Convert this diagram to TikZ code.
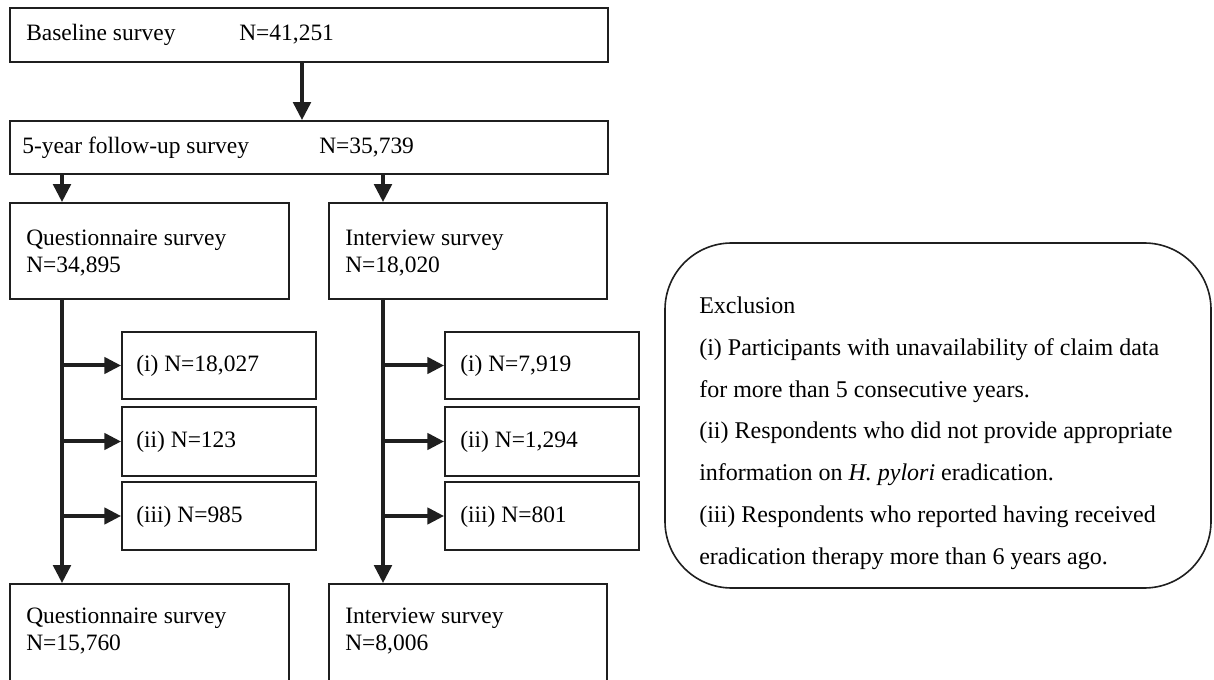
\documentclass[tikz,border=0pt]{standalone}
\usepackage{fontspec}
\setmainfont{Liberation Serif}
\usetikzlibrary{arrows.meta,fit}
\begin{document}
\begin{tikzpicture}[x=0.75pt,y=-0.75pt,
  box/.style={draw=black!88, line width=1.3pt, inner sep=0pt},
  txt/.style={anchor=west, inner sep=0pt, font=\fontsize{17.6}{21}\selectfont},
  extxt/.style={anchor=west, inner sep=0pt, font=\fontsize{18}{21.5}\selectfont},
  flow/.style={line width=3pt, draw=black!88, -{Triangle[length=13.5pt,width=13pt]}},
  side/.style={line width=3pt, draw=black!88, -{Triangle[length=12.5pt,width=12pt]}},
  exbox/.style={draw=black!88, line width=1.2pt, rounded corners=50pt, inner sep=0pt}
]
\useasboundingbox (0,0) rectangle (1214,680);
\clip (0,0) rectangle (1214,680);

% main boxes
\node[box, fit={(10,8) (608,62)}] (base) {};
\node[box, fit={(10,121) (608,174)}] (fu) {};
\node[box, fit={(10,203) (289,299)}] (q) {};
\node[box, fit={(329,203) (607,299)}] (iv) {};
\node[box, fit={(10,584) (289,720)}] (qb) {};
\node[box, fit={(329,584) (607,720)}] (ivb) {};

% exclusion count boxes
\node[box, fit={(122,332) (316,399)}] (q1) {};
\node[box, fit={(122,407) (316,476)}] (q2) {};
\node[box, fit={(122,482) (316,550)}] (q3) {};
\node[box, fit={(445,332) (639,399)}] (i1) {};
\node[box, fit={(445,407) (639,476)}] (i2) {};
\node[box, fit={(445,482) (639,550)}] (i3) {};

% texts
\node[txt] (tb1) at (26,35) {\strut Baseline survey};
\node[txt] (tb2) at (239,35) {\strut N=41,251};
\node[txt] (tf1) at (22,148) {\strut 5-year follow-up survey};
\node[txt] (tf2) at (319,148) {\strut N=35,739};
\node[txt] (tq1) at (26,240) {\strut Questionnaire survey};
\node[txt] (tq2) at (26,267) {\strut N=34,895};
\node[txt] (ti1) at (345,240) {\strut Interview survey};
\node[txt] (ti2) at (345,267) {\strut N=18,020};
\node[txt] (tqb1) at (26,618) {\strut Questionnaire survey};
\node[txt] (tqb2) at (26,645) {\strut N=15,760};
\node[txt] (tib1) at (345,618) {\strut Interview survey};
\node[txt] (tib2) at (345,645) {\strut N=8,006};
\node[txt] (tq1x) at (136,366) {\strut (i) N=18,027};
\node[txt] (tq2x) at (136,442) {\strut (ii) N=123};
\node[txt] (tq3x) at (136,517) {\strut (iii) N=985};
\node[txt] (ti1x) at (460,366) {\strut (i) N=7,919};
\node[txt] (ti2x) at (460,442) {\strut (ii) N=1,294};
\node[txt] (ti3x) at (460,517) {\strut (iii) N=801};

% connectors
\coordinate (ax) at (302,0);
\coordinate (lx) at (62,0);
\coordinate (rx) at (383,0);
\draw[flow] (base.south -| ax) -- (fu.north -| ax);
\draw[flow] (fu.south -| lx) -- (q.north -| lx);
\draw[flow] (fu.south -| rx) -- (iv.north -| rx);
\draw[flow] (q.south -| lx) -- (qb.north -| lx);
\draw[flow] (iv.south -| rx) -- (ivb.north -| rx);
\draw[side] (q1.west -| lx) -- (q1.west);
\draw[side] (q2.west -| lx) -- (q2.west);
\draw[side] (q3.west -| lx) -- (q3.west);
\draw[side] (i1.west -| rx) -- (i1.west);
\draw[side] (i2.west -| rx) -- (i2.west);
\draw[side] (i3.west -| rx) -- (i3.west);

% exclusion note
\node[exbox, fit={(665,243) (1211,588)}] (ex) {};
\node[extxt] (e1) at (699,308) {\strut Exclusion};
\node[extxt] (e2) at (699,350) {\strut (i) Participants with unavailability of claim data};
\node[extxt] (e3) at (699,392) {\strut for more than 5 consecutive years.};
\node[extxt] (e4) at (699,433) {\strut (ii) Respondents who did not provide appropriate};
\node[extxt] (e5) at (699,475) {\strut information on \textit{H. pylori} eradication.};
\node[extxt] (e6) at (699,517) {\strut (iii) Respondents who reported having received};
\node[extxt] (e7) at (699,559) {\strut eradication therapy more than 6 years ago.};
\end{tikzpicture}
\end{document}
